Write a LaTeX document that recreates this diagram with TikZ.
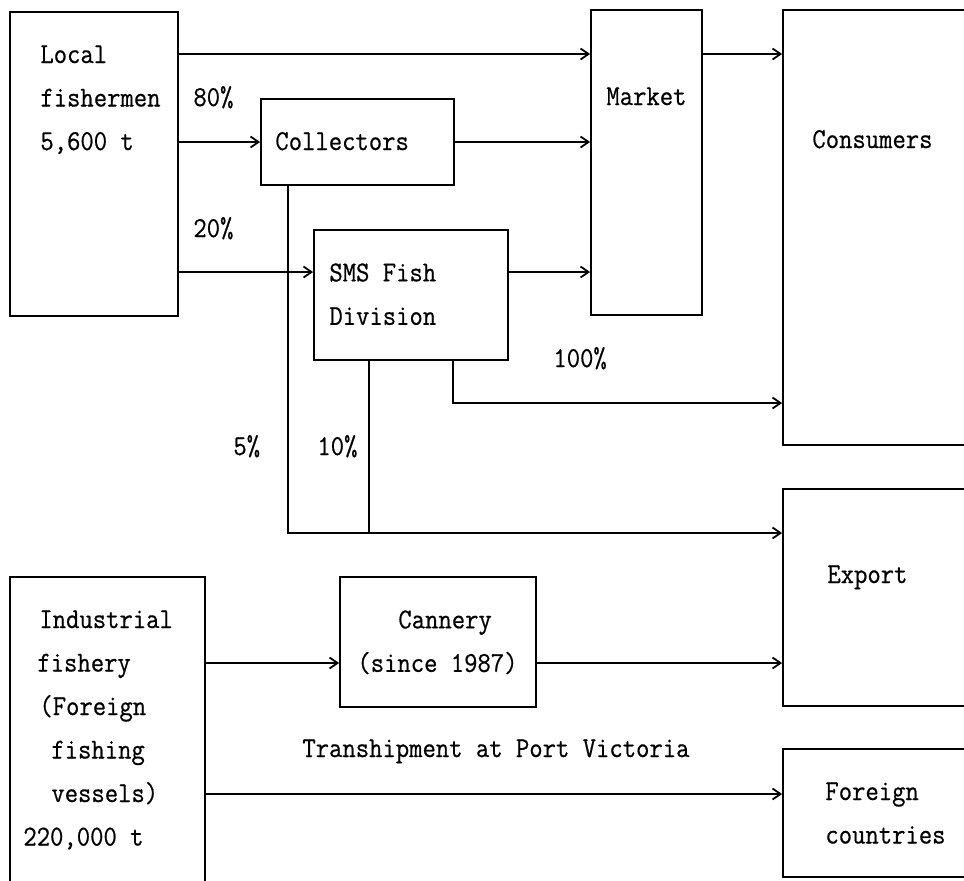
\documentclass[tikz,border=0pt]{standalone}
\usepackage{fontspec}
\setmonofont[FakeStretch=0.9, FakeBold=0.6]{Latin Modern Mono}
\usepackage{tikz}
\usetikzlibrary{arrows.meta, fit}

\begin{document}
\begin{tikzpicture}[x=0.5pt, y=-0.5pt,
    box/.style={draw, line width=0.9pt, inner sep=0pt},
    txt/.style={inner sep=0pt, align=left, font=\fontsize{14.4}{21.75}\selectfont\ttfamily},
    flow/.style={line width=0.9pt, -{Straight Barb[length=4pt, width=5.5pt]}}]

  \useasboundingbox (0,0) rectangle (964,880);
  \clip (0,0) rectangle (964,880);

  % Boxes
  \node[box, fit={(10,12) (178,316)}] (local) {};
  \node[box, fit={(261,99) (454,185)}] (collectors) {};
  \node[box, fit={(314,230) (508,360)}] (sms) {};
  \node[box, fit={(591,10) (702,315)}] (market) {};
  \node[box, fit={(783,10) (1000,445)}] (consumers) {};
  \node[box, fit={(783,489) (1000,706)}] (export) {};
  \node[box, fit={(783,749) (1000,877)}] (foreign) {};
  \node[box, fit={(10,577) (205,920)}] (industrial) {};
  \node[box, fit={(340,577) (536,707)}] (cannery) {};

  % Box texts
  \node[txt, anchor=north west] (localtxt) at (40,45) {Local\\fishermen\\5,600 t};
  \node[txt, anchor=base west] (colltxt) at (275,150) {Collectors};
  \node[txt, anchor=north west] (smstxt) at (329,263) {SMS Fish\\Division};
  \node[txt, anchor=base west] (mkttxt) at (606,105) {Market};
  \node[txt, anchor=base west] (constxt) at (812,148) {Consumers};
  \node[txt, anchor=base west] (exptxt) at (827,583) {Export};
  \node[txt, anchor=north west] (fortxt) at (825,782) {Foreign\\countries};
  \node[txt, anchor=north west] (indtxt) at (23,610)
    {\hspace*{8pt}Industrial\\\hspace*{7pt}fishery\\\hspace*{8pt}(Foreign\\
     \hspace*{14pt}fishing\\\hspace*{14pt}vessels)\\220,000 t};
  \node[txt, anchor=north west] (cantxt) at (357,610) {\hspace*{20.5pt}Cannery\\(since 1987)};

  % Shares
  \node[txt, anchor=base west] (p80) at (193,106) {80\%};
  \node[txt, anchor=base west] (p20) at (193,237) {20\%};
  \node[txt, anchor=base west] (p100) at (553,367) {100\%};
  \node[txt, anchor=base west] (p5) at (233,455) {5\%};
  \node[txt, anchor=base west] (p10) at (317,455) {10\%};
  \node[txt, anchor=base west] (trans) at (302,757) {Transhipment at Port Victoria};

  % Local fishery flows
  \draw[flow] (local.east |- 0,54) -- (market.west |- 0,54);
  \draw[flow] (market.east |- 0,54) -- (consumers.west |- 0,54);
  \draw[flow] (local.east |- 0,142) -- (collectors.west |- 0,142);
  \draw[flow] (collectors.east |- 0,142) -- (market.west |- 0,142);
  \draw[flow] (local.east |- 0,272) -- (sms.west |- 0,272);
  \draw[flow] (sms.east |- 0,272) -- (market.west |- 0,272);
  \draw[flow] (sms.south -| 453,0) |- (consumers.west |- 0,403);

  % To export
  \coordinate (join) at (369,533);
  \draw[flow] (collectors.south -| 288,0) |- (join) -- (export.west |- join);
  \draw[line width=0.9pt] (sms.south -| join) -- (join);

  % Industrial fishery flows
  \draw[flow] (industrial.east |- 0,663) -- (cannery.west |- 0,663);
  \draw[flow] (cannery.east |- 0,663) -- (export.west |- 0,663);
  \draw[flow] (industrial.east |- 0,794) -- (foreign.west |- 0,794);
\end{tikzpicture}
\end{document}
